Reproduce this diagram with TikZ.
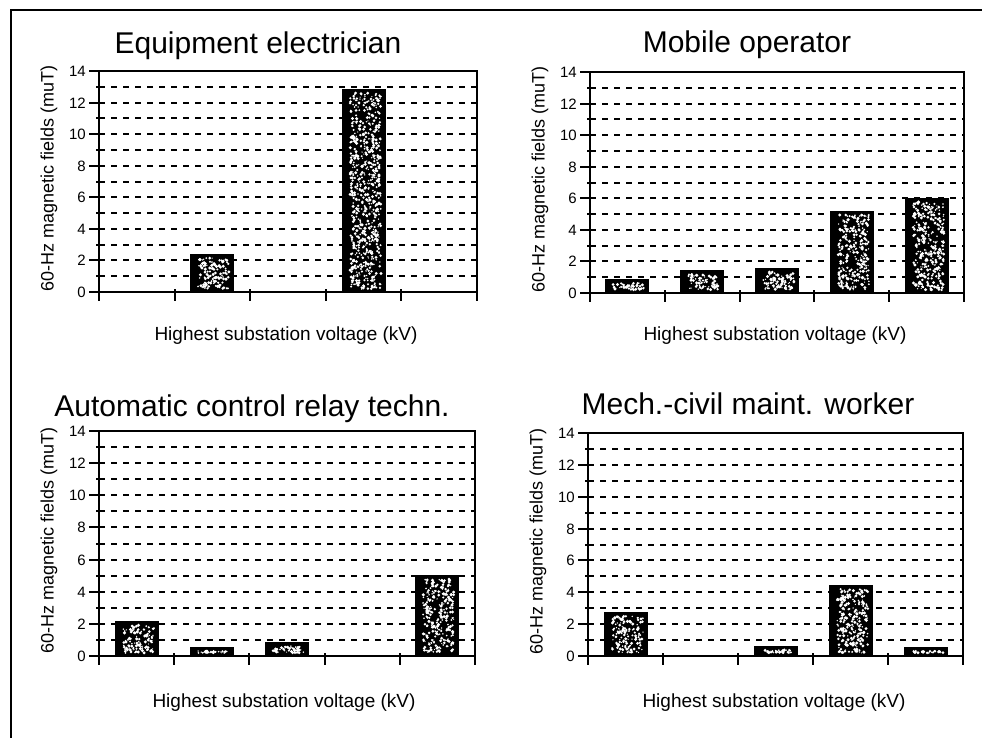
\documentclass[tikz,border=0pt]{standalone}
\usepackage{fontspec}
\setmainfont{Liberation Sans}
\tikzset{
  framel/.style={line width=2pt, black},
  axisl/.style={line width=2pt, black},
  gridl/.style={line width=2pt, black, dash pattern=on 6pt off 6pt},
  tickl/.style={line width=2pt, black},
  barfill/.style={fill=black},
  barline/.style={line width=2pt, black},
  titletext/.style={inner sep=0pt, anchor=base, font=\fontsize{30}{32}\selectfont},
  labtext/.style={inner sep=0pt, font=\fontsize{18}{20}\selectfont},
  xlabtext/.style={inner sep=0pt, anchor=base, font=\fontsize{19}{21}\selectfont},
  ticktext/.style={inner sep=0pt, anchor=east, font=\fontsize{15}{17}\selectfont},
}
\pgfmathsetseed{4711}
% #1 left x, #2 right x, #3 top y, #4 bottom y
\newcommand{\speckbar}[4]{%
  \pgfmathsetmacro\sbl{#1}
  \pgfmathsetmacro\sbr{#2}
  \pgfmathsetmacro\sbt{#3}
  \pgfmathsetmacro\sbb{#4}
  \fill[barfill] (\sbl,\sbt) rectangle (\sbr,\sbb);
  \pgfmathsetmacro\nspk{int(max(1,(\sbr-\sbl)*(\sbb-\sbt)/12))}
  \foreach \q in {1,...,\nspk}{%
    \pgfmathsetmacro\rx{\sbl+7+rnd*(\sbr-\sbl-11)}
    \pgfmathsetmacro\ry{\sbt+3+rnd*(\sbb-\sbt-6)}
    \pgfmathsetmacro\rr{0.6+1.1*rnd}
    \fill[white] (\rx,\ry) circle[radius=\rr pt];
  }
  \draw[barline] (\sbl,\sbt) rectangle (\sbr,\sbb);
}
% #1 x0, #2 x1, #3 ytop, #4 ybot, #5 name, #6 bar values
\newcommand{\chartpanel}[6]{%
  \pgfmathsetmacro\cw{(#2-#1)/5}
  \pgfmathsetmacro\uu{(#4-#3)/14}
  \foreach \k in {1,...,13}{%
    \pgfmathsetmacro\gy{round(#4-\k*\uu)}
    \draw[gridl] (#1,\gy) -- (#2,\gy);}
  \foreach \v [count=\i] in {#6}{%
    \ifdim \v pt>0pt
      \pgfmathsetmacro\bc{round(#1+(\i-0.5)*\cw)}
      \pgfmathsetmacro\bl{\bc-21}
      \pgfmathsetmacro\br{\bc+21}
      \pgfmathsetmacro\bt{round(#4-\v*\uu)}
      \speckbar{\bl}{\br}{\bt}{#4}
    \fi
  }
  \draw[axisl] (#1,#4) -- (#1,#3) -- (#2,#3) -- (#2,#4) -- cycle;
  \foreach \k in {0,2,...,14}{%
    \pgfmathsetmacro\gy{round(#4-\k*\uu)}
    \draw[tickl] ({#1-10},\gy) -- ({#1+3},\gy);
    \node[ticktext] (#5t\k) at ({#1-13},\gy) {\k};
  }
  \foreach \k in {1,3,...,13}{%
    \pgfmathsetmacro\gy{round(#4-\k*\uu)}
    \draw[tickl] ({#1-3},\gy) -- ({#1+4},\gy);}
  \foreach \j in {0,...,5}{%
    \pgfmathsetmacro\gx{round(#1+\j*\cw)}
    \draw[tickl] (\gx,{#4-3}) -- (\gx,{#4+9});}
  \node[labtext, rotate=90] (#5y) at ({#1-50},{(#3+#4)/2-3}) {60-Hz magnetic fields (muT)};
}
\begin{document}
\begin{tikzpicture}[x=1pt,y=-1pt]
\useasboundingbox (0,0) rectangle (982,738);
\fill[white] (0,0) rectangle (982,738);
\coordinate (fa) at (11,738);
\coordinate (fb) at (11,10);
\coordinate (fc) at (982,10);
\draw[framel] (fa) -- (fb) -- (fc);

\chartpanel{99}{477}{71}{292}{pa}{0,2.35,0,12.8,0}
\node[titletext] (ta) at (258,54) {Equipment electrician};
\node[xlabtext] (xa) at (286,340) {Highest substation voltage (kV)};

\chartpanel{590}{964}{72}{293}{pb}{0.8,1.4,1.5,5.1,5.95}
\node[titletext] (tb) at (747,53) {Mobile operator};
\node[xlabtext] (xb) at (775,340) {Highest substation voltage (kV)};

\chartpanel{99}{475}{431}{656}{pc}{2.1,0.5,0.8,0,5.0}
\node[titletext] (tc) at (252,416) {Automatic control relay techn.};
\node[xlabtext] (xc) at (284,707) {Highest substation voltage (kV)};

\chartpanel{588}{963}{433}{656}{pd}{2.7,0,0.55,4.4,0.5}
\node[titletext] (td) at (748,414) {Mech.-civil maint. worker};
\node[xlabtext] (xd) at (774,707) {Highest substation voltage (kV)};
\end{tikzpicture}
\end{document}
